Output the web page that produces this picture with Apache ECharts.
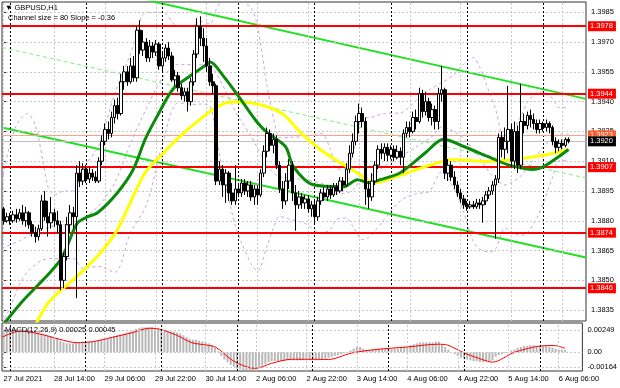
<!DOCTYPE html>
<html><head><meta charset="utf-8">
<script src="https://cdn.jsdelivr.net/npm/echarts@6/dist/echarts.min.js"></script>
<style>html,body{margin:0;padding:0;background:#fff}#c{width:620px;height:388px}</style>
</head><body><div id="c"></div>
<script>
// Prices are given in pips above BASE (1.3800). Candle rows: [open, close, low, high]
const BASE = 1.38, PIP = 0.0001;
const jul27 = [[86,80,78,87],[80,82,79,84]];
const jul28 = [[82,80,78,84],[80,83,79,85],[83,81,79,86],[81,84,80,86],[84,80,78,88],[80,84,77,87],[84,78,76,85],[78,74,72,80],[74,72,69,77],[72,76,70,78],[76,90,75,93],[90,82,80,95],[82,79,72,90],[79,84,76,92],[84,80,77,86],[80,78,74,85],[78,50,45,80],[50,62,46,64],[62,78,60,82],[78,84,74,88],[84,82,76,87],[82,104,41,108],[104,100,97,110],[100,106,98,109]];
const jul29 = [[106,101,99,108],[101,104,99,107],[104,102,100,106],[102,100,99,105],[100,110,99,112],[110,120,108,123],[120,126,118,129],[126,124,121,130],[124,132,122,135],[132,138,129,141],[138,134,131,142],[134,150,133,154],[150,155,146,158],[155,150,148,158],[150,158,149,162],[158,152,150,163],[152,176,150,178],[176,166,164,181],[166,170,163,176],[170,162,160,172],[162,168,160,171],[168,165,162,170],[165,169,163,171],[169,158,156,170]];
const jul30 = [[158,162,155,165],[162,167,160,169],[167,163,161,170],[163,151,150,165],[151,153,148,156],[153,147,145,155],[147,143,141,149],[143,145,140,147],[145,140,135,147],[140,150,138,152],[150,164,148,166],[164,178,162,182],[178,172,168,183],[172,168,160,177],[168,158,155,172],[158,150,148,162],[150,148,144,154],[148,100,98,149],[100,106,98,110],[106,98,92,108],[98,104,89,106],[104,94,90,105],[94,90,88,99],[90,96,88,108]];
const aug2 = [[96,94,92,98],[94,99,92,101],[99,95,93,101],[95,98,92,100],[98,92,90,100],[92,96,88,98],[96,93,88,98],[93,104,92,106],[104,115,102,118],[115,124,112,127],[124,118,115,126],[118,121,114,124],[121,108,106,123],[108,96,94,110],[96,90,86,100],[90,100,88,104],[100,108,96,111],[108,94,90,110],[94,88,75,98],[88,92,86,95],[92,89,86,94],[89,91,86,93],[91,86,84,93],[86,88,82,90]];
const aug3 = [[88,82,78,90],[82,90,80,92],[90,94,88,96],[94,92,90,97],[92,96,90,98],[96,93,91,98],[93,97,92,99],[97,95,93,99],[95,100,94,102],[100,98,95,102],[98,106,97,109],[106,114,104,118],[114,120,112,124],[120,130,118,133],[130,134,124,139],[134,130,127,137],[130,96,88,132],[96,92,86,100],[92,100,90,104],[100,108,98,110],[108,116,106,118],[116,114,111,119],[114,117,110,119],[117,113,110,119]];
const aug4 = [[113,116,111,118],[116,112,110,118],[112,115,111,118],[115,112,108,117],[112,124,104,126],[124,127,122,130],[127,125,122,130],[125,132,124,135],[132,130,126,136],[130,144,129,147],[144,135,132,146],[135,140,133,145],[140,132,130,142],[132,136,128,139],[136,130,126,138],[130,144,126,147],[144,146,140,158],[146,104,101,147],[104,108,100,111],[108,102,100,110],[102,98,96,105],[98,94,92,100],[94,91,89,96],[91,88,86,93]];
const aug5 = [[88,87,85,90],[87,88,86,90],[88,87,86,90],[87,89,86,91],[89,88,86,91],[88,90,79,92],[90,93,88,95],[93,95,91,97],[95,98,93,100],[98,101,71,103],[101,122,99,124],[122,116,112,125],[116,120,111,127],[120,126,114,148],[126,110,107,129],[110,125,106,130],[125,108,104,128],[108,130,106,149],[130,128,124,134],[128,133,126,135],[133,131,127,136],[131,129,126,134],[129,126,124,131],[126,129,124,131]];
const aug6 = [[129,127,125,130],[127,129,125,131],[129,127,124,130],[127,120,118,128],[120,117,114,122],[117,119,115,121],[119,118,116,121],[118,121,117,122],[121,120,119,122]];

// Moving averages & Bollinger bands: [bar index, pips]
const maGreen = [[0.4,28.7],[6.1,39.7],[17.8,60],[23.2,78.8],[26.3,81.9],[29.5,83.9],[35.8,94],[40.8,105.7],[44.6,121],[48.4,132.7],[53.4,146.4],[58.8,153],[64.2,159],[65.1,160],[69.2,153],[74.6,141.4],[79.9,129.6],[83,124.5],[88.8,117.4],[91.3,107.3],[97.6,98.1],[107,97.1],[111.5,100.7],[115,99.1],[118.7,100.7],[125,104.2],[133,114.4],[138.6,121],[145,117.4],[152.5,112.4],[158.8,108.3],[167,105.8],[170.2,107.3],[178,115.9]];
const maYellow = [[9,24],[10.5,29],[14.6,39.7],[24.1,53.4],[30.4,63.6],[35.8,75.3],[39.9,89],[44.6,104.2],[49.3,112.4],[55.6,122.5],[62,131.2],[66,136.2],[71.4,139.8],[74.6,139.8],[80,138.8],[85,136.2],[88.8,132.7],[93.5,124.5],[99.8,115.9],[106,109.3],[112.4,103.2],[116.2,99.1],[121,100.7],[127.3,104.2],[133,107.3],[141.8,110.8],[152.5,109.8],[163,111.3],[171.4,113.4],[178,115.9]];
const bbUpper = [[-0.5,100],[1,112],[4,128],[7.5,134],[10,128],[12.4,110],[14,97],[16,93],[19,95],[22,95],[25,106],[30,118],[35,144],[40,164],[45,185],[50,185],[55,178],[60,178.5],[62,180.5],[65,179.3],[67,186.5],[70,193],[73,193],[75,191],[78,187],[80,178],[83,148],[85,132],[87,122],[90,122],[95,122.6],[100,124],[103,116],[105,106],[108,106.5],[110,113],[113,132],[115,132],[120,134],[125,134.3],[130,140.6],[134,145.8],[138,149.6],[140,151.3],[143,155.3],[145,158.9],[148,162.2],[150,157.3],[153,144.8],[155,136.3],[158,119.5],[160,124],[163,132.6],[165,139.5],[168,144.5],[170,144.9],[173,141.5],[175,137],[178,137]];
const bbMiddle = [[-0.5,66],[5,70],[10,74],[15,77],[19,78],[22,78],[25,81],[30,87.6],[35,99],[40,119],[45,136.5],[50,151.8],[55,158.8],[60,158.6],[65,158.6],[67,154.3],[70,145.3],[73,135.2],[75,129.9],[78,122.7],[80,116.5],[83,107.7],[85,104.3],[87,102],[90,101.6],[95,100.6],[100,98.9],[103,95.8],[105,93.5],[108,94],[110,95.3],[113,101.3],[115,101.7],[120,107.4],[125,112.2],[130,117.2],[135,122.4],[138,127.2],[140,126.3],[143,123.9],[145,121.5],[148,115.8],[150,111.6],[153,104.5],[155,101],[158,98],[160,99.2],[163,102.6],[165,106.7],[168,112.9],[170,116.9],[173,121.8],[175,123.6],[178,123.7]];
const bbLower = [[-0.5,28],[2,36],[5,48],[8,55],[12,60],[16,61],[19,61],[22,61],[25,56],[30,57],[35,54],[40,74],[45,88],[50,118.5],[55,139.4],[60,138.6],[62,138.8],[65,137.8],[67,122],[70,97.7],[73,77.6],[75,68.9],[78,58.3],[80,54.7],[83,67.2],[85,76.2],[87,82.1],[90,80.9],[95,78.6],[100,73.9],[103,75.6],[105,80.8],[108,81.4],[110,77.4],[113,70.5],[115,71.4],[120,80.8],[125,90],[130,93.7],[134,94.6],[138,104.8],[140,101.3],[143,92.5],[145,84.1],[148,69.4],[150,65.8],[153,64.2],[155,65.8],[158,76.4],[160,74.3],[163,72.6],[165,73.9],[168,81.3],[170,88.8],[173,102],[175,110.2],[178,110.3]];
const channelUpper = [[40,193.0],[183.5,141.4]];
const channelLower = [[-0.5,127.0],[183.5,61.5]];
const channelMiddle = [[-0.5,167.3],[183.5,101.5]];

const levels = [1.3978, 1.3944, 1.3907, 1.3874, 1.3846];
const askPrice = 1.3923, bidPrice = 1.3920;
const priceTicks = [1.3835,1.3850,1.3865,1.3880,1.3895,1.3910,1.3925,1.3940,1.3955,1.3970,1.3985];
const macdTicks = [0.00249, 0, -0.00164];
const tickBars = [0,16,32,48,64,80,96,112,128,144,160,176];
const tickLabels = ['27 Jul 2021','28 Jul 14:00','29 Jul 06:00','29 Jul 22:00','30 Jul 14:00','2 Aug 06:00','2 Aug 22:00','3 Aug 14:00','4 Aug 06:00','4 Aug 22:00','5 Aug 14:00','6 Aug 06:00'];
const daySeparators = [2,26,50,74,98,122,146,170];
// MACD main (histogram), units of 0.0001
const macdHist = [24,25,26,26,26,26,26,25,25,24,23,22, 21,20,19,18,17,16,13, 11,10,10,10,11,11,12,
 12,12,12,12,13,14,15,16,17,18,19,20,21,22,23,24,26,27,28,28,28,28,
 27,26,25,25,24,23,23,22,21,19,17,15,14,14,13,12,11,10,8,
 5,1,-4,-8,-11,-14,-16, -18,-19,-20,-20,-20,-20,-19,
 -17,-15,-13,-11,-10,-10,-10,-10,-10,-9,-9,-9,-9,-9,-9,-9,-9,
 -9,-9,-8,-8,-7,-6, -5,-4,-3,-2,-1,0,2, 4,6,6,
 4,3,3,3,4,4,4,4,4,4,4,4,5,6, 7,8,9,10,11,11,11,11,11,12,12,9,
 6,3,0,-2,-4, -6,-7,-8,-9,-10,-10,-11,-11,-10,-10,-9, -5,-3,-2,-1,0,
 2,3,5,6,7,7,8,8,7,7,7,7,6,5,4,3,3,2.5];
const macdSignal = [[-0.5,16.7],[5.2,23.8],[11.5,20.4],[17.8,14.5],[23.2,10.7],[28.2,11.8],[34.5,16.7],[40.8,21.9],[46.2,26.8],[49.3,26],[54.7,19.3],[59.7,10.7],[64.2,8.1],[67.3,5.6],[72.4,-8.6],[76.8,-16],[79.9,-17.9],[85,-12.3],[91.3,-7.8],[96.7,-7.8],[103,-8],[110.2,-1],[117.8,3],[128.2,6],[137.7,9],[140.8,8],[146.2,-1],[153.4,-10],[155,-11],[162,0],[170.2,7],[174.6,7.5],[178,4.5]];

const NCAT = 184;
const px = p => +(BASE + p * PIP).toFixed(5);
const candles = [].concat(jul27, jul28, jul29, jul30, aug2, aug3, aug4, aug5, aug6).map(r => r.map(px));
const cats = Array.from({length: NCAT}, (_, i) => String(i));
const toPts = arr => arr.map(([i, p]) => [i, px(p)]);
const FONT = 'Liberation Sans';
const GRID = '#c8c8c8';
const anchorMain = [[-0.5, 1.39], [NCAT - 0.5, 1.39]];
const anchorMacd = [[-0.5, 0], [NCAT - 0.5, 0]];

const chart = echarts.init(document.getElementById('c'), null, {renderer: 'canvas'});
const lineS = (name, data, color, width, type, z, smooth) => ({
  name, type: 'line', xAxisIndex: 1, yAxisIndex: 0, data, showSymbol: false, symbol: 'none',
  smooth: smooth ? 0.3 : false, clip: true, z, silent: true, animation: false,
  lineStyle: {color, width, type: type || 'solid'}
});
const helper = (xi, yi, anchor, z, items) => ({
  type: 'line', xAxisIndex: xi, yAxisIndex: yi, data: anchor, z, silent: true, showSymbol: false, symbol: 'none',
  lineStyle: {opacity: 0, width: 0}, animation: false,
  markLine: {silent: true, symbol: 'none', animation: false, precision: 8, label: {show: false}, data: items}
});
const levelLabel = (txt, bg, fg) => ({show: true, position: 'end', formatter: txt, backgroundColor: bg, color: fg,
  fontSize: 7.5, fontFamily: FONT, padding: [1, 3, 1, 2], distance: 2});
const gridItems = (hVals) => hVals.map(v => ({yAxis: v, lineStyle: {color: GRID, type: [2, 2], width: 1}}))
  .concat(tickBars.map(b => ({xAxis: b, lineStyle: {color: GRID, type: [2, 2], width: 1}})))
  .concat(daySeparators.map(b => ({xAxis: b, lineStyle: {color: '#000', type: [2, 2], width: 1}})));

chart.setOption({
  animation: false,
  backgroundColor: '#fff',
  grid: [
    {left: 2, top: 2, width: 584, height: 319, show: true, borderColor: '#333', borderWidth: 1, backgroundColor: 'transparent'},
    {left: 2, top: 323, width: 584, height: 48, show: true, borderColor: '#333', borderWidth: 1, backgroundColor: 'transparent'}
  ],
  xAxis: [
    {type: 'category', gridIndex: 0, data: cats, boundaryGap: true, show: false},
    {type: 'value', gridIndex: 0, min: -0.5, max: NCAT - 0.5, show: false},
    {type: 'category', gridIndex: 1, data: cats, boundaryGap: true, show: false},
    {type: 'value', gridIndex: 1, position: 'bottom', min: -0.5, max: NCAT - 0.5, show: true,
      axisLine: {show: false}, axisTick: {show: false}, splitLine: {show: false},
      axisLabel: {customValues: tickBars, formatter: v => tickLabels[tickBars.indexOf(Math.round(v))] || '',
        align: 'left', fontSize: 7.5, fontFamily: FONT, color: '#000', margin: 4, hideOverlap: false}}
  ],
  yAxis: [
    {type: 'value', gridIndex: 0, position: 'right', min: 1.38295, max: 1.39902,
      axisLine: {show: false}, splitLine: {show: false},
      axisTick: {show: true, customValues: priceTicks, length: 3, lineStyle: {color: '#333'}},
      axisLabel: {customValues: priceTicks, formatter: v => v.toFixed(4), fontSize: 7.5, fontFamily: FONT, color: '#000', margin: 5}},
    {type: 'value', gridIndex: 1, position: 'right', min: -0.00209, max: 0.00327,
      axisLine: {show: false}, splitLine: {show: false},
      axisTick: {show: true, customValues: macdTicks, length: 3, lineStyle: {color: '#333'}},
      axisLabel: {customValues: macdTicks, formatter: v => (Math.abs(v) < 1e-9 ? '0.00' : v.toFixed(5)), fontSize: 7.5, fontFamily: FONT, color: '#000', margin: 5}}
  ],
  graphic: [
    {type: 'text', left: 5, top: 4, style: {text: '▼ GBPUSD,H1', font: '7.5px "Liberation Sans"', fill: '#000'}, z: 100},
    {type: 'text', left: 8, top: 14, style: {text: 'Channel size = 80 Slope = -0.36', font: '7.5px "Liberation Sans"', fill: '#000'}, z: 100},
    {type: 'text', left: 5, top: 326, style: {text: 'MACD(12,26,9) 0.00025 0.00045', font: '7.5px "Liberation Sans"', fill: '#000'}, z: 100}
  ],
  series: [
    helper(1, 0, anchorMain, 1, gridItems(priceTicks)),
    helper(3, 1, anchorMacd, 1, gridItems(macdTicks)),
    lineS('bbUpper', toPts(bbUpper), '#c9a3e0', 1, [3, 3], 2, true),
    lineS('bbMiddle', toPts(bbMiddle), '#c9a3e0', 1, [3, 3], 2, true),
    lineS('bbLower', toPts(bbLower), '#c9a3e0', 1, [3, 3], 2, true),
    lineS('chU', toPts(channelUpper), '#22e022', 2, 'solid', 3, false),
    lineS('chL', toPts(channelLower), '#22e022', 2, 'solid', 3, false),
    lineS('chM', toPts(channelMiddle), '#7ef07e', 1, [4, 3], 3, false),
    helper(1, 0, anchorMain, 4,
      levels.map(v => ({yAxis: v, lineStyle: {color: '#ff0000', width: 2, type: 'solid'}, label: levelLabel(v.toFixed(4), '#ff0000', '#fff')}))
        .concat([{yAxis: askPrice, lineStyle: {color: '#ffa08a', width: 1, type: 'solid'}, label: levelLabel(askPrice.toFixed(4), '#ff5a2a', '#fff')},
                 {yAxis: bidPrice, lineStyle: {color: '#c0c0c0', width: 1, type: 'solid'}, label: levelLabel(bidPrice.toFixed(4), '#000', '#fff')}])),
    lineS('maYellow', toPts(maYellow), '#ffff00', 3, 'solid', 5, true),
    lineS('maGreen', toPts(maGreen), '#0a8a0a', 3, 'solid', 5, true),
    {type: 'candlestick', xAxisIndex: 0, yAxisIndex: 0, data: candles, barWidth: 3, z: 6, silent: true,
      itemStyle: {color: '#ffffff', color0: '#000000', borderColor: '#000000', borderColor0: '#000000', borderWidth: 1}},
    {type: 'bar', xAxisIndex: 2, yAxisIndex: 1, data: macdHist.map(v => v * PIP), barWidth: 2, z: 3, silent: true,
      itemStyle: {color: '#b8b8b8'}},
    {type: 'line', xAxisIndex: 3, yAxisIndex: 1, data: macdSignal.map(([i, v]) => [i, v * PIP]), showSymbol: false, symbol: 'none',
      smooth: 0.3, z: 4, silent: true, lineStyle: {color: '#ff0000', width: 1}}
  ]
});
</script></body></html>
